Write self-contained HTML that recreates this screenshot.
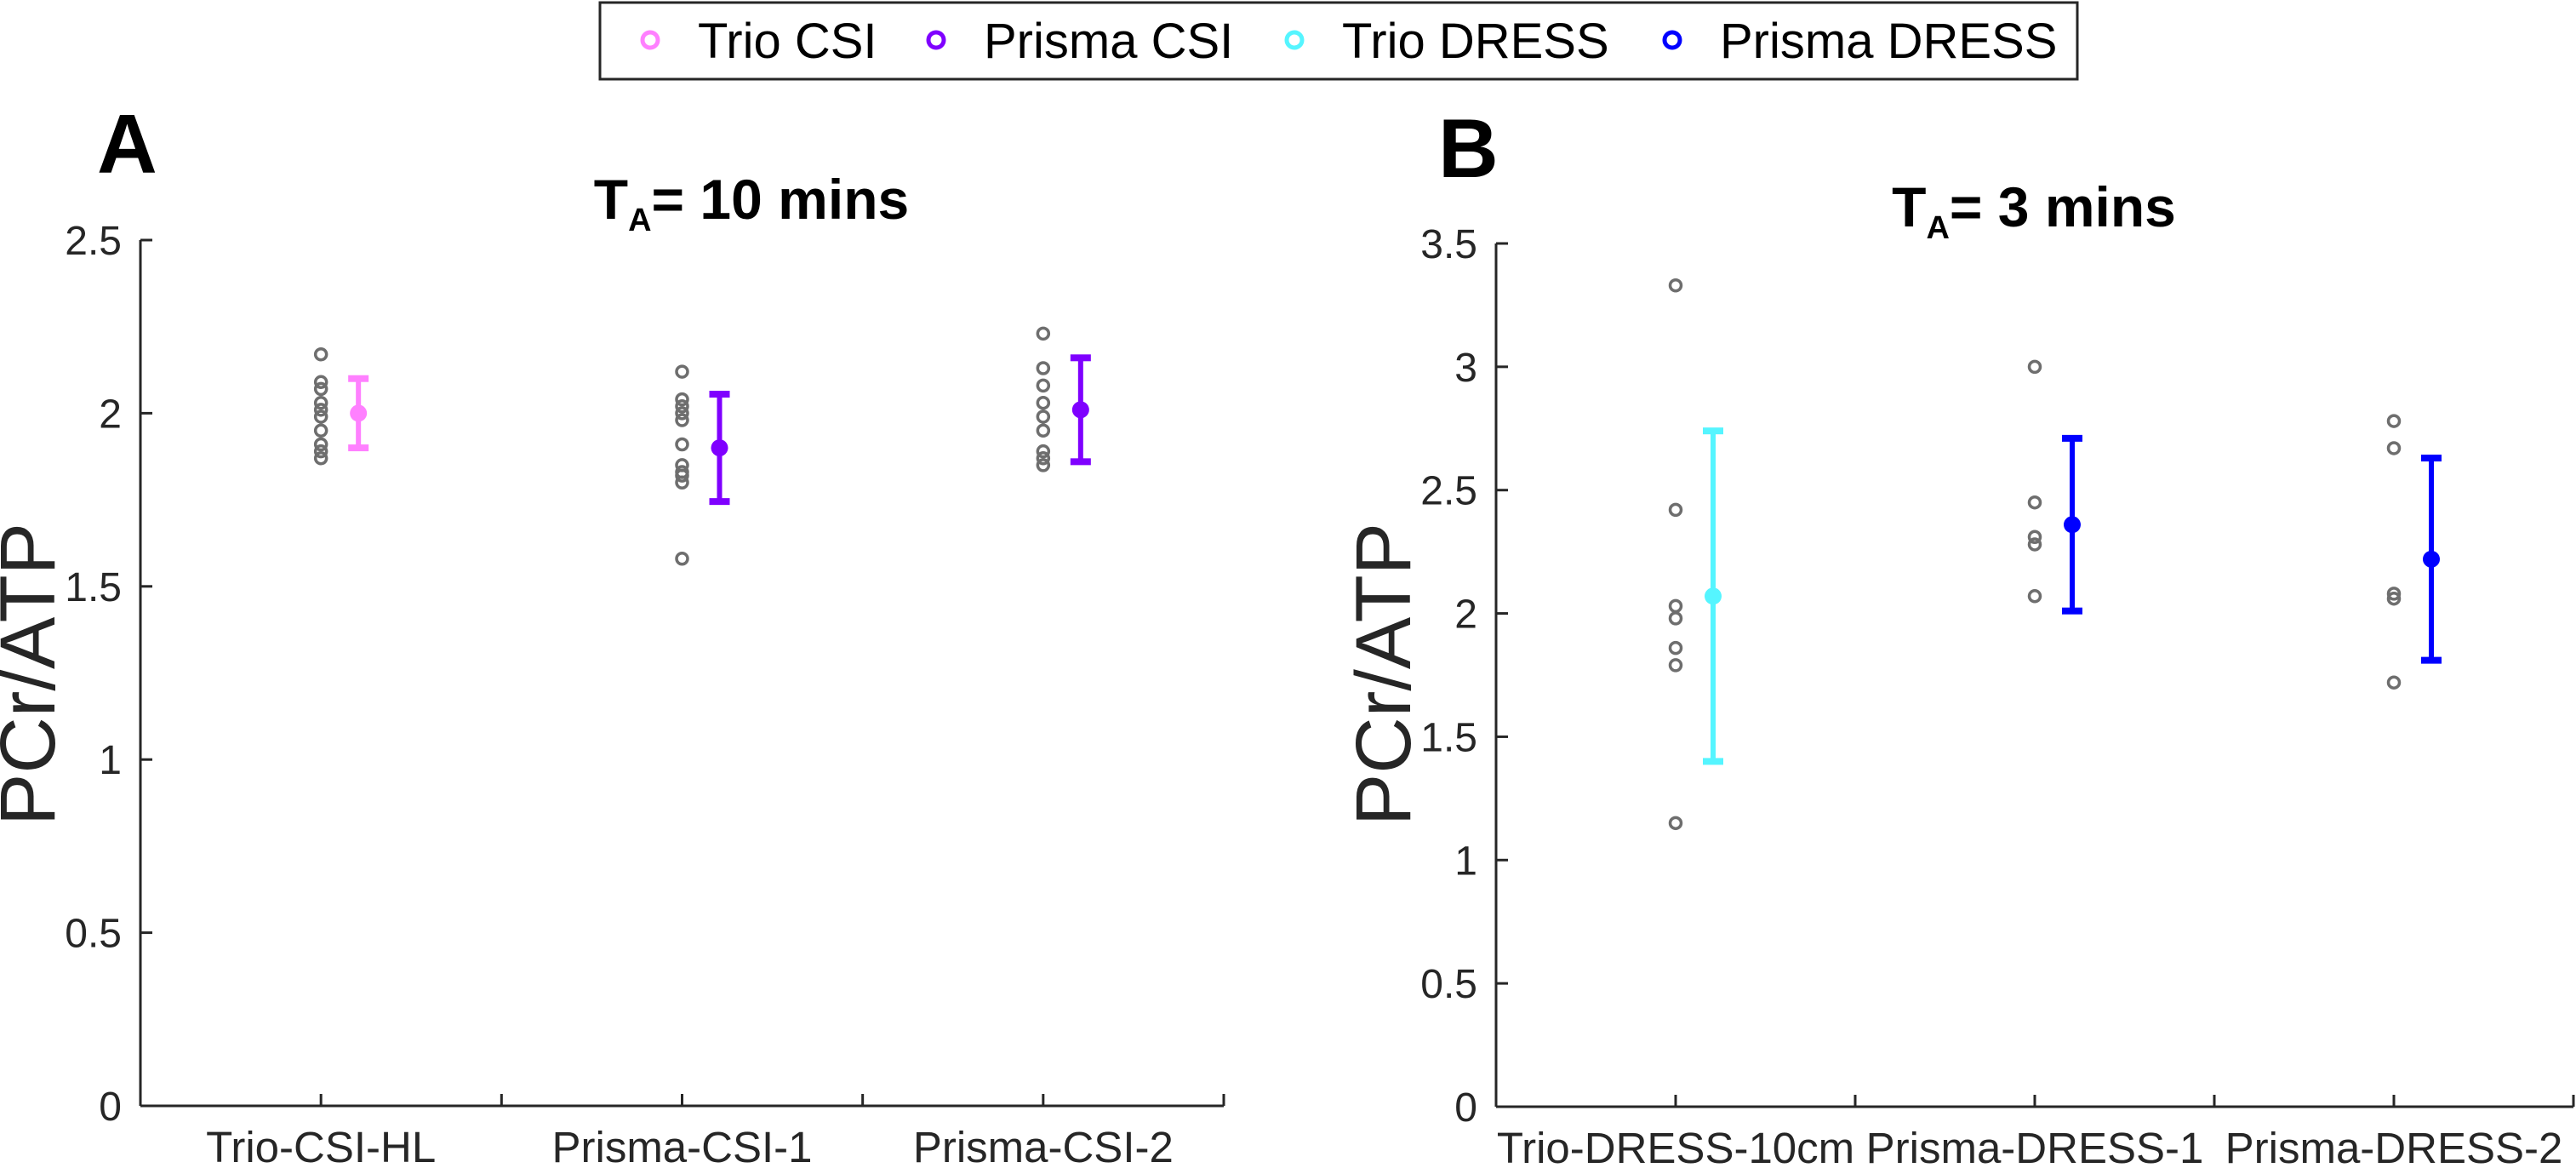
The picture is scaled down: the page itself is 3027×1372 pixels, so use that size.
<!DOCTYPE html>
<html><head><meta charset="utf-8"><style>
html,body{margin:0;padding:0;background:#fff;}
svg{display:block;font-family:"Liberation Sans",Arial,sans-serif;}
</style></head><body>
<svg id="chart" width="3027" height="1372" viewBox="0 0 3027 1372">
<g id="legend">
<rect x="705" y="3" width="1736" height="90" fill="#fff" stroke="#262626" stroke-width="3"/>
</g>
<g id="panelA"></g>
<g id="panelB"></g>
</svg>
<script>
const NS="http://www.w3.org/2000/svg";
// Legend
const legendLabels=["Trio CSI","Prisma CSI","Trio DRESS","Prisma DRESS"];
const legendColors=["#ff80ff","#7f00ff","#55f5ff","#0000ff"];
const legendMarkerX=[764,1100,1521,1965];

// Panel A data
const catsA=["Trio-CSI-HL","Prisma-CSI-1","Prisma-CSI-2"];
const pointsA=[
 [2.17,2.09,2.07,2.03,2.01,1.99,1.95,1.91,1.89,1.87],
 [2.12,2.04,2.02,2.00,1.98,1.91,1.85,1.83,1.82,1.80,1.58],
 [2.23,2.13,2.08,2.03,1.99,1.95,1.89,1.87,1.85]
];
const meansA=[2.00,1.90,2.01];
const errA=[0.10,0.155,0.15];
const colorsA=["#ff80ff","#7f00ff","#7f00ff"];
const yTicksA=[0,0.5,1,1.5,2,2.5];
const yTickLabelsA=["0","0.5","1","1.5","2","2.5"];

// Panel B data
const catsB=["Trio-DRESS-10cm","Prisma-DRESS-1","Prisma-DRESS-2"];
const pointsB=[
 [3.33,2.42,2.03,1.98,1.86,1.79,1.15],
 [3.00,2.45,2.31,2.28,2.07],
 [2.78,2.67,2.08,2.06,1.72]
];
const meansB=[2.07,2.36,2.22];
const errB=[0.67,0.35,0.41];
const colorsB=["#55f5ff","#0000ff","#0000ff"];
const yTicksB=[0,0.5,1,1.5,2,2.5,3,3.5];
const yTickLabelsB=["0","0.5","1","1.5","2","2.5","3","3.5"];

function mk(tag,attrs,parent){const e=document.createElementNS(NS,tag);for(const k in attrs)e.setAttribute(k,attrs[k]);parent.appendChild(e);return e;}

const lg=document.getElementById('legend');
legendLabels.forEach((l,i)=>{
  const c=mk('circle',{cx:legendMarkerX[i],cy:47,r:9,fill:'none',stroke:legendColors[i],'stroke-width':5},lg);
  
  
  const t=mk('text',{x:legendMarkerX[i]+56,y:68,'font-size':58,fill:'#000'},lg);
  t.textContent=l;
  
  
});

function panel(g,cfg){
  const {x0,x1,yTop,y0,ymax,cats,pts,means,errs,colors,ticks,tickLabels,letter,letterX,letterY,title,titleX,titleY,ylabX}=cfg;
  const W=x1-x0;
  const xs=v=>x0+v/3*W;
  const ys=v=>y0-(v/ymax)*(y0-yTop);
  const ax='#262626';
  let a=mk('line',{x1:x0,y1:yTop,x2:x0,y2:y0,stroke:ax,'stroke-width':3},g);
  
  a=mk('line',{x1:x0,y1:y0,x2:x1,y2:y0,stroke:ax,'stroke-width':3},g);
  
  ticks.forEach((v,i)=>{
    const y=ys(v);
    const tk=mk('line',{x1:x0,y1:y,x2:x0+14,y2:y,stroke:ax,'stroke-width':3},g);
    
    const t=mk('text',{x:x0-22,y:y+17,'font-size':48,'text-anchor':'end',fill:ax},g);
    t.textContent=tickLabels[i];
    
  });
  for(let k=1;k<=6;k++){
    const x=xs(k*0.5);
    const tk=mk('line',{x1:x,y1:y0,x2:x,y2:y0-14,stroke:ax,'stroke-width':3},g);
    
  }
  cats.forEach((c,i)=>{
    const cx=xs(i+0.5);
    const t=mk('text',{x:cx,y:y0+66,'font-size':51,'text-anchor':'middle',fill:ax},g);
    t.textContent=c;
    
    pts[i].forEach(v=>{
      const p=mk('circle',{cx:cx,cy:ys(v),r:6.5,fill:'none',stroke:'#6e6e6e','stroke-width':3.5},g);
      
    });
    const ex=cx+44;
    const top=ys(means[i]+errs[i]), bot=ys(means[i]-errs[i]);
    const eb=mk('line',{x1:ex,y1:top,x2:ex,y2:bot,stroke:colors[i],'stroke-width':6},g);
    
    [top,bot].forEach(yy=>{
      const cap=mk('rect',{x:ex-12,y:yy-4,width:24,height:8,fill:colors[i]},g);
      
    });
    const m=mk('circle',{cx:ex,cy:ys(means[i]),r:10,fill:colors[i]},g);
    
  });
  const L=mk('text',{x:letterX,y:letterY,'font-size':98,'font-weight':'bold',fill:'#000'},g);
  L.textContent=letter;
  
  const T=mk('text',{x:titleX,y:titleY,'font-size':66,'font-weight':'bold','text-anchor':'middle',fill:'#000'},g);
  T.innerHTML='T<tspan font-size="38" dy="14">A</tspan><tspan dy="-14">= '+title+'</tspan>';
  
  const Y=mk('text',{x:ylabX,y:792,'font-size':92,'text-anchor':'middle',fill:ax,transform:'rotate(-90 '+ylabX+' 792)'},g);
  Y.textContent='PCr/ATP';
  
}
panel(document.getElementById('panelA'),{x0:165,x1:1438,yTop:282,y0:1299,ymax:2.5,cats:catsA,pts:pointsA,means:meansA,errs:errA,colors:colorsA,ticks:yTicksA,tickLabels:yTickLabelsA,letter:'A',letterX:114,letterY:203,title:'10 mins',titleX:883,titleY:257,ylabX:64});
panel(document.getElementById('panelB'),{x0:1758,x1:3024,yTop:286,y0:1300,ymax:3.5,cats:catsB,pts:pointsB,means:meansB,errs:errB,colors:colorsB,ticks:yTicksB,tickLabels:yTickLabelsB,letter:'B',letterX:1690,letterY:208,title:'3 mins',titleX:2390,titleY:266,ylabX:1657});
</script>
</body></html>
